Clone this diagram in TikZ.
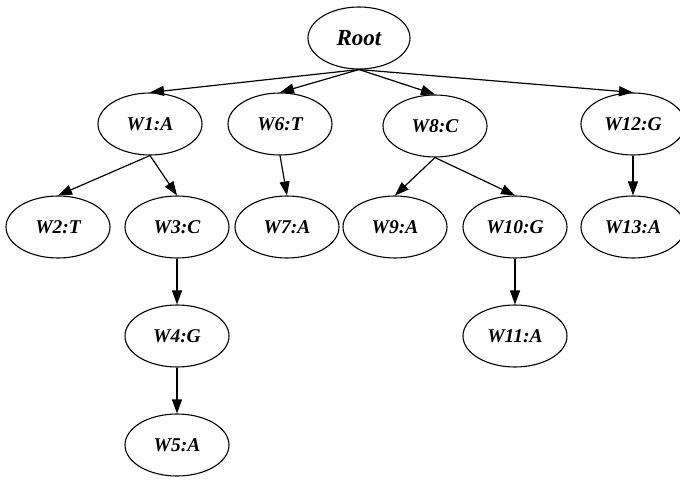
\documentclass[tikz,border=0pt]{standalone}
\usepackage{fontspec}
\setmainfont{Liberation Serif}
\usetikzlibrary{shapes.geometric,arrows.meta}
\tikzset{
  wnode/.style={draw, line width=1.1pt, ellipse, minimum width=104pt, minimum height=62pt, inner sep=0pt,
    font=\fontsize{19.5}{21}\selectfont\bfseries\itshape},
  rootnode/.style={wnode, minimum width=102pt, font=\fontsize{23}{25}\selectfont\bfseries\itshape},
  edge/.style={line width=1.2pt, -{Triangle[length=14pt,width=10pt]}}
}
\begin{document}
\begin{tikzpicture}[x=1pt,y=-1pt]
\clip (0,0) rectangle (680,481);
\fill[white] (0,0) rectangle (680,481);
\node[rootnode] (root) at (359,38) {Root};
\node[wnode] (w1) at (150,124) {W1:A};
\node[wnode] (w6) at (280,124) {W6:T};
\node[wnode] (w8) at (435,126) {W8:C};
\node[wnode] (w12) at (633,124) {W12:G};
\node[wnode] (w2) at (58,227) {W2:T};
\node[wnode] (w3) at (177,227) {W3:C};
\node[wnode] (w7) at (287,227) {W7:A};
\node[wnode] (w9) at (395,227) {W9:A};
\node[wnode] (w10) at (515,227) {W10:G};
\node[wnode] (w13) at (633,227) {W13:A};
\node[wnode] (w4) at (177,336) {W4:G};
\node[wnode] (w11) at (515,336) {W11:A};
\node[wnode] (w5) at (177,445) {W5:A};
\draw[edge] (root.south) -- (w1.north);
\draw[edge] (root.south) -- (w6.north);
\draw[edge] (root.south) -- (w8.north);
\draw[edge] (root.south) -- (w12.north);
\draw[edge] (w1.south) -- (w2.north);
\draw[edge] (w1.south) -- (w3.north);
\draw[edge] (w6.south) -- (w7.north);
\draw[edge] (w8.south) -- (w9.north);
\draw[edge] (w8.south) -- (w10.north);
\draw[edge] (w12.south) -- (w13.north);
\draw[edge] (w3.south) -- (w4.north);
\draw[edge] (w4.south) -- (w5.north);
\draw[edge] (w10.south) -- (w11.north);
\end{tikzpicture}
\end{document}
